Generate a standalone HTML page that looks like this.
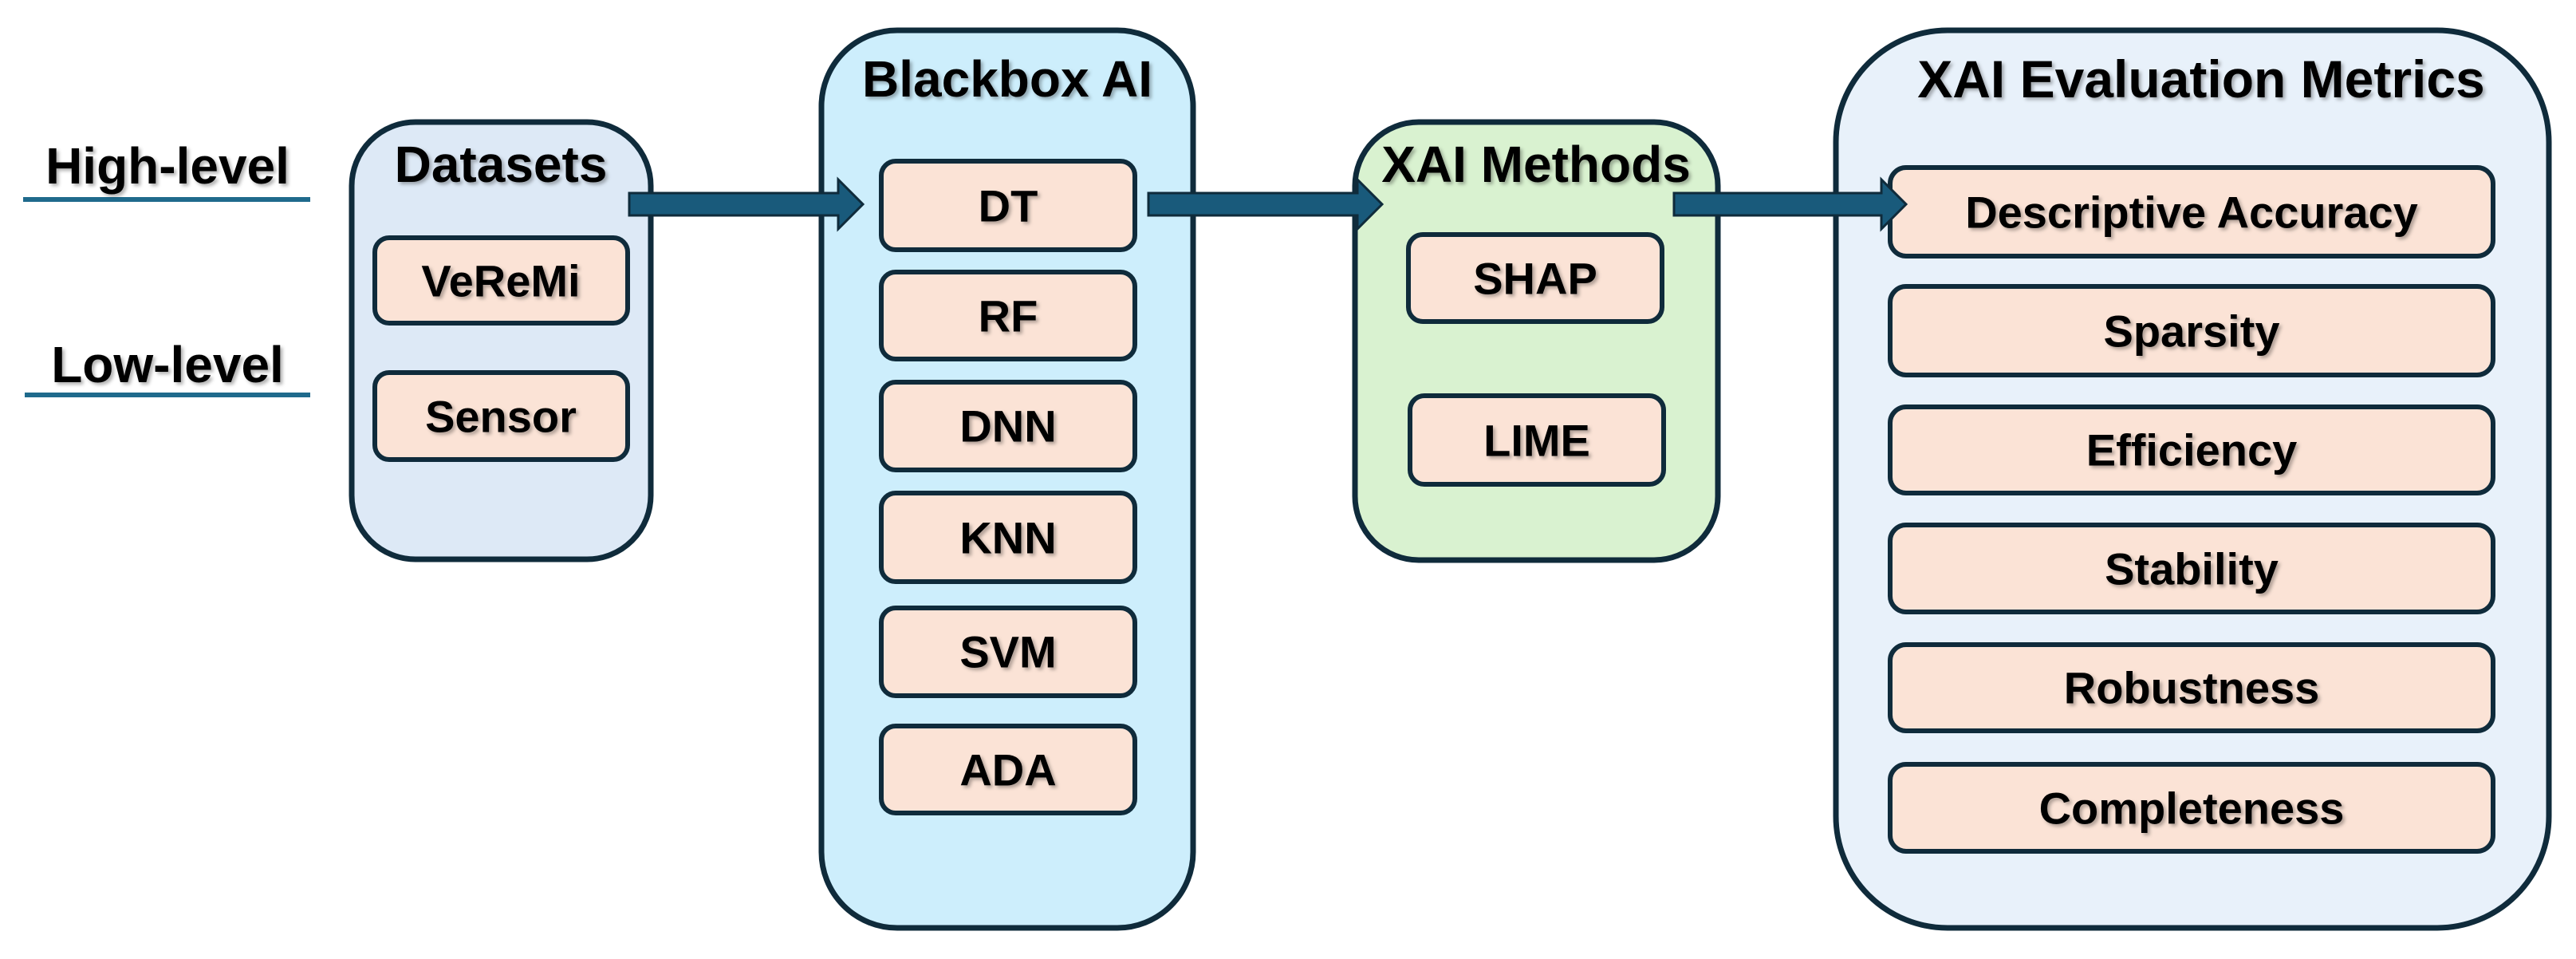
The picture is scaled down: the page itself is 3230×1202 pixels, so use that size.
<!DOCTYPE html>
<html><head><meta charset="utf-8"><style>
html,body{margin:0;padding:0;background:#fff}
svg text{font-family:"Liberation Sans",sans-serif;font-weight:bold;fill:#000;text-anchor:middle;dominant-baseline:central}
.t{font-size:64px}
.i{font-size:56px}
</style></head><body>
<svg width="3230" height="1197" viewBox="0 0 3230 1197" xmlns="http://www.w3.org/2000/svg">
<defs><filter id="sh" x="-10%" y="-30%" width="120%" height="160%"><feDropShadow dx="3" dy="3" stdDeviation="2" flood-color="#000" flood-opacity="0.3"/></filter></defs>
<g stroke="#0f2b3b" stroke-width="7">
<rect x="441" y="153" width="375" height="548" rx="80" fill="#dde9f6"/>
<rect x="1030" y="38" width="466" height="1125" rx="95" fill="#cdeefc"/>
<rect x="1699" y="153" width="455" height="549" rx="80" fill="#d9f2d0"/>
<rect x="2302" y="38" width="894" height="1125" rx="140" fill="#e8f1fa"/>
</g>
<g stroke="#0f2b3b" stroke-width="6" fill="#fbe3d6">
<rect x="470" y="298" width="317" height="107" rx="18"/>
<rect x="470" y="467" width="317" height="109" rx="18"/>
<rect x="1105" y="202" width="318" height="111" rx="18"/>
<rect x="1105" y="341" width="318" height="109" rx="18"/>
<rect x="1105" y="479" width="318" height="110" rx="18"/>
<rect x="1105" y="618" width="318" height="111" rx="18"/>
<rect x="1105" y="762" width="318" height="110" rx="18"/>
<rect x="1105" y="910" width="318" height="109" rx="18"/>
<rect x="1766" y="294" width="318" height="109" rx="18"/>
<rect x="1768" y="496" width="318" height="111" rx="18"/>
<rect x="2370" y="210" width="756" height="111" rx="20"/>
<rect x="2370" y="359" width="756" height="111" rx="20"/>
<rect x="2370" y="510" width="756" height="108" rx="20"/>
<rect x="2370" y="658" width="756" height="109" rx="20"/>
<rect x="2370" y="808" width="756" height="108" rx="20"/>
<rect x="2370" y="958" width="756" height="109" rx="20"/>
</g>
<g fill="#195a7b" stroke="#0f2b3b" stroke-width="3">
<polygon points="789,242 1051,242 1051,225 1082,256 1051,287 1051,270 789,270"/>
<polygon points="1440,242 1702,242 1702,225 1733,256 1702,287 1702,270 1440,270"/>
<polygon points="2099,242 2359,242 2359,225 2390,256 2359,287 2359,270 2099,270"/>
</g>
<rect x="29" y="247" width="360" height="6" fill="#1f6a8c"/>
<rect x="31" y="492" width="358" height="6" fill="#1f6a8c"/>
<g filter="url(#sh)">
<text class="t" x="210" y="208">High-level</text>
<text class="t" x="210" y="457">Low-level</text>
<text class="t" x="628" y="206">Datasets</text>
<text class="t" x="1263" y="99">Blackbox AI</text>
<text class="t" x="1926" y="206">XAI Methods</text>
<text class="t" x="2760" y="99" style="font-size:66px">XAI Evaluation Metrics</text>
<text class="i" x="628" y="352">VeReMi</text>
<text class="i" x="628" y="522">Sensor</text>
<text class="i" x="1264" y="258">DT</text>
<text class="i" x="1264" y="396">RF</text>
<text class="i" x="1264" y="534">DNN</text>
<text class="i" x="1264" y="674">KNN</text>
<text class="i" x="1264" y="817">SVM</text>
<text class="i" x="1264" y="965">ADA</text>
<text class="i" x="1925" y="349">SHAP</text>
<text class="i" x="1927" y="552">LIME</text>
<text class="i" x="2748" y="266">Descriptive Accuracy</text>
<text class="i" x="2748" y="415">Sparsity</text>
<text class="i" x="2748" y="564">Efficiency</text>
<text class="i" x="2748" y="713">Stability</text>
<text class="i" x="2748" y="862">Robustness</text>
<text class="i" x="2748" y="1013">Completeness</text>
</g>
</svg>
</body></html>
